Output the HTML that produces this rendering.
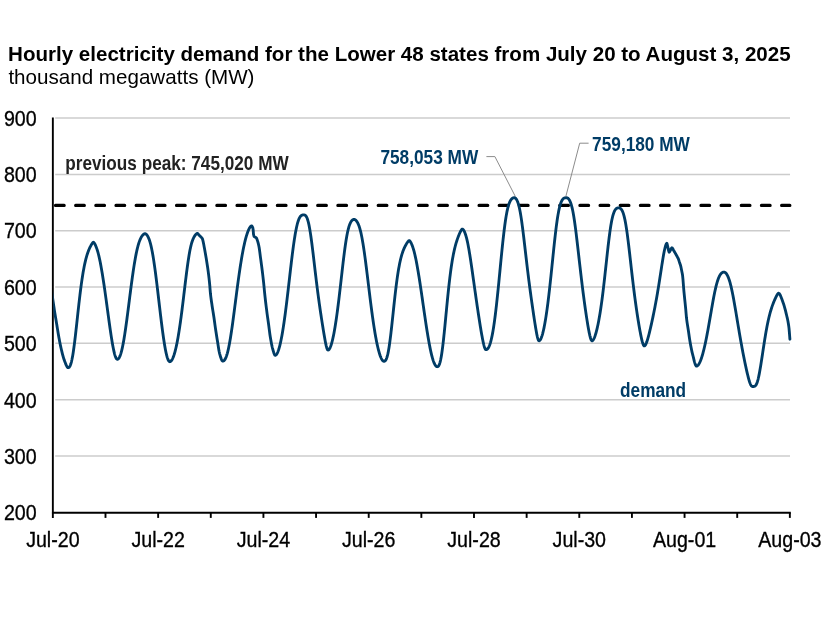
<!DOCTYPE html>
<html lang="en">
<head>
<meta charset="utf-8">
<title>Hourly electricity demand for the Lower 48 states</title>
<style>
html,body{margin:0;padding:0;background:#fff;}
body{width:826px;height:620px;overflow:hidden;font-family:"Liberation Sans",Arial,Helvetica,sans-serif;}
svg{display:block;}
text{font-family:"Liberation Sans",Arial,Helvetica,sans-serif;}
</style>
</head>
<body>
<svg width="826" height="620" viewBox="0 0 826 620">
<rect x="0" y="0" width="826" height="620" fill="#ffffff"/>
<text x="8.1" y="61.0" font-size="20.55" font-weight="bold" fill="#000">Hourly electricity demand for the Lower 48 states from July 20 to August 3, 2025</text>
<text x="8.4" y="84.2" font-size="20.6" fill="#000">thousand megawatts (MW)</text>
<g stroke="#cccccc" stroke-width="1.5" fill="none">
<line x1="55.2" y1="456.00" x2="790" y2="456.00"/>
<line x1="55.2" y1="399.65" x2="790" y2="399.65"/>
<line x1="55.2" y1="343.30" x2="790" y2="343.30"/>
<line x1="55.2" y1="287.10" x2="790" y2="287.10"/>
<line x1="55.2" y1="230.80" x2="790" y2="230.80"/>
<line x1="55.2" y1="174.40" x2="790" y2="174.40"/>
<line x1="55.2" y1="118.00" x2="790" y2="118.00"/>
</g>
<text transform="translate(3.90 520.40) scale(0.8610 1)" x="0" y="0" font-size="22.8" text-anchor="start" fill="#000" stroke="#000" stroke-width="0.35">200</text>
<text transform="translate(3.90 464.01) scale(0.8610 1)" x="0" y="0" font-size="22.8" text-anchor="start" fill="#000" stroke="#000" stroke-width="0.35">300</text>
<text transform="translate(3.90 407.63) scale(0.8610 1)" x="0" y="0" font-size="22.8" text-anchor="start" fill="#000" stroke="#000" stroke-width="0.35">400</text>
<text transform="translate(3.90 351.24) scale(0.8610 1)" x="0" y="0" font-size="22.8" text-anchor="start" fill="#000" stroke="#000" stroke-width="0.35">500</text>
<text transform="translate(3.90 294.86) scale(0.8610 1)" x="0" y="0" font-size="22.8" text-anchor="start" fill="#000" stroke="#000" stroke-width="0.35">600</text>
<text transform="translate(3.90 238.47) scale(0.8610 1)" x="0" y="0" font-size="22.8" text-anchor="start" fill="#000" stroke="#000" stroke-width="0.35">700</text>
<text transform="translate(3.90 182.09) scale(0.8610 1)" x="0" y="0" font-size="22.8" text-anchor="start" fill="#000" stroke="#000" stroke-width="0.35">800</text>
<text transform="translate(3.90 125.70) scale(0.8610 1)" x="0" y="0" font-size="22.8" text-anchor="start" fill="#000" stroke="#000" stroke-width="0.35">900</text>
<line x1="55.45" y1="205.39" x2="789.9" y2="205.39" stroke="#000" stroke-width="3.1" stroke-linecap="round" stroke-dasharray="8.75 11.42"/>
<g stroke="#000" stroke-width="1.9" fill="none">
<line x1="52.85" y1="117.6" x2="52.85" y2="517.9"/>
<line x1="51.95" y1="512.7" x2="790.8000000000001" y2="512.7"/>
<line x1="105.49" y1="512.7" x2="105.49" y2="517.9"/>
<line x1="158.14" y1="512.7" x2="158.14" y2="517.9"/>
<line x1="210.78" y1="512.7" x2="210.78" y2="517.9"/>
<line x1="263.42" y1="512.7" x2="263.42" y2="517.9"/>
<line x1="316.06" y1="512.7" x2="316.06" y2="517.9"/>
<line x1="368.71" y1="512.7" x2="368.71" y2="517.9"/>
<line x1="421.35" y1="512.7" x2="421.35" y2="517.9"/>
<line x1="473.99" y1="512.7" x2="473.99" y2="517.9"/>
<line x1="526.64" y1="512.7" x2="526.64" y2="517.9"/>
<line x1="579.28" y1="512.7" x2="579.28" y2="517.9"/>
<line x1="631.92" y1="512.7" x2="631.92" y2="517.9"/>
<line x1="684.56" y1="512.7" x2="684.56" y2="517.9"/>
<line x1="737.21" y1="512.7" x2="737.21" y2="517.9"/>
<line x1="789.85" y1="512.7" x2="789.85" y2="517.9"/>
</g>
<clipPath id="plot"><rect x="53.3" y="100" width="745" height="420"/></clipPath>
<path clip-path="url(#plot)" d="M50.50 282.40 L50.85 285.07 L51.20 287.70 L51.55 290.30 L51.90 292.86 L52.25 295.39 L52.60 297.89 L52.95 300.35 L53.30 302.78 L53.65 305.18 L54.00 307.53 L54.35 309.84 L54.70 312.10 L55.05 314.29 L55.40 316.43 L55.75 318.53 L56.10 320.61 L56.45 322.70 L56.80 324.81 L57.15 326.96 L57.50 329.14 L57.85 331.31 L58.20 333.43 L58.55 335.46 L58.90 337.40 L59.25 339.30 L59.60 341.16 L59.95 342.98 L60.30 344.72 L60.65 346.39 L61.00 347.97 L61.35 349.47 L61.70 350.95 L62.05 352.40 L62.40 353.82 L62.75 355.18 L63.10 356.47 L63.45 357.69 L63.80 358.82 L64.15 359.84 L64.50 360.75 L64.85 361.66 L65.20 362.58 L65.55 363.49 L65.90 364.36 L66.25 365.18 L66.60 365.93 L66.95 366.57 L67.30 367.09 L67.65 367.46 L68.00 367.67 L68.20 367.70 L68.35 367.69 L68.70 367.59 L69.05 367.37 L69.40 367.02 L69.75 366.52 L70.10 365.87 L70.45 365.05 L70.80 364.06 L71.15 362.90 L71.50 361.55 L71.85 360.03 L72.20 358.33 L72.55 356.45 L72.90 354.40 L73.25 352.19 L73.60 349.83 L73.95 347.32 L74.30 344.67 L74.65 341.91 L75.00 339.04 L75.35 336.07 L75.70 333.02 L76.05 329.91 L76.40 326.75 L76.75 323.56 L77.10 320.34 L77.45 317.12 L77.80 313.90 L78.15 310.70 L78.50 307.54 L78.85 304.41 L79.20 301.34 L79.55 298.33 L79.90 295.39 L80.25 292.52 L80.60 289.74 L80.95 287.04 L81.30 284.43 L81.65 281.92 L82.00 279.50 L82.35 277.18 L82.70 274.96 L83.05 272.84 L83.40 270.81 L83.75 268.88 L84.10 267.04 L84.45 265.30 L84.80 263.64 L85.15 262.08 L85.50 260.59 L85.85 259.19 L86.20 257.86 L86.55 256.60 L86.90 255.42 L87.25 254.30 L87.60 253.24 L87.95 252.24 L88.30 251.29 L88.65 250.39 L89.00 249.54 L89.35 248.73 L89.70 247.96 L90.05 247.22 L90.40 246.52 L90.75 245.85 L91.10 245.21 L91.45 244.60 L91.80 244.02 L92.15 243.49 L92.50 243.01 L92.85 242.60 L93.20 242.29 L93.40 242.20 L93.55 242.26 L93.90 242.58 L94.25 243.03 L94.60 243.58 L94.95 244.21 L95.30 244.92 L95.65 245.69 L96.00 246.52 L96.35 247.42 L96.70 248.38 L97.05 249.40 L97.40 250.50 L97.75 251.68 L98.10 252.93 L98.45 254.26 L98.80 255.67 L99.15 257.15 L99.50 258.72 L99.85 260.36 L100.20 262.08 L100.55 263.87 L100.90 265.72 L101.25 267.64 L101.60 269.63 L101.95 271.68 L102.30 273.78 L102.65 275.95 L103.00 278.16 L103.35 280.42 L103.70 282.73 L104.05 285.08 L104.40 287.47 L104.75 289.90 L105.10 292.36 L105.45 294.85 L105.80 297.36 L106.15 299.90 L106.50 302.45 L106.85 305.02 L107.20 307.60 L107.55 310.18 L107.90 312.76 L108.25 315.34 L108.60 317.91 L108.95 320.46 L109.30 322.98 L109.65 325.48 L110.00 327.95 L110.35 330.38 L110.70 332.76 L111.05 335.09 L111.40 337.36 L111.75 339.56 L112.10 341.68 L112.45 343.73 L112.80 345.68 L113.15 347.54 L113.50 349.29 L113.85 350.92 L114.20 352.44 L114.55 353.82 L114.90 355.07 L115.25 356.17 L115.60 357.12 L115.95 357.91 L116.30 358.53 L116.65 358.97 L117.00 359.23 L117.30 359.30 L117.35 359.30 L117.70 359.23 L118.05 359.06 L118.40 358.77 L118.75 358.37 L119.10 357.86 L119.45 357.24 L119.80 356.50 L120.15 355.64 L120.50 354.67 L120.85 353.58 L121.20 352.38 L121.55 351.07 L121.90 349.65 L122.25 348.11 L122.60 346.48 L122.95 344.73 L123.30 342.89 L123.65 340.95 L124.00 338.92 L124.35 336.81 L124.70 334.60 L125.05 332.32 L125.40 329.97 L125.75 327.55 L126.10 325.07 L126.45 322.53 L126.80 319.94 L127.15 317.31 L127.50 314.64 L127.85 311.93 L128.20 309.21 L128.55 306.47 L128.90 303.71 L129.25 300.95 L129.60 298.19 L129.95 295.44 L130.30 292.71 L130.65 289.99 L131.00 287.30 L131.35 284.64 L131.70 282.02 L132.05 279.44 L132.40 276.91 L132.75 274.43 L133.10 272.01 L133.45 269.65 L133.80 267.35 L134.15 265.13 L134.50 262.97 L134.85 260.89 L135.20 258.89 L135.55 256.97 L135.90 255.13 L136.25 253.38 L136.60 251.71 L136.95 250.13 L137.30 248.63 L137.65 247.22 L138.00 245.89 L138.35 244.65 L138.70 243.48 L139.05 242.40 L139.40 241.40 L139.75 240.46 L140.10 239.60 L140.45 238.81 L140.80 238.08 L141.15 237.41 L141.50 236.80 L141.85 236.25 L142.20 235.76 L142.55 235.31 L142.90 234.92 L143.25 234.59 L143.60 234.30 L143.95 234.07 L144.30 233.89 L144.65 233.76 L145.00 233.70 L145.06 233.70 L145.35 233.75 L145.70 233.89 L146.05 234.12 L146.40 234.42 L146.75 234.79 L147.10 235.24 L147.45 235.76 L147.80 236.36 L148.15 237.03 L148.50 237.78 L148.85 238.62 L149.20 239.54 L149.55 240.55 L149.90 241.66 L150.25 242.86 L150.60 244.16 L150.95 245.57 L151.30 247.08 L151.65 248.70 L152.00 250.43 L152.35 252.26 L152.70 254.20 L153.05 256.24 L153.40 258.37 L153.75 260.61 L154.10 262.93 L154.45 265.34 L154.80 267.83 L155.15 270.40 L155.50 273.03 L155.85 275.74 L156.20 278.50 L156.55 281.32 L156.90 284.18 L157.25 287.09 L157.60 290.02 L157.95 292.98 L158.30 295.97 L158.65 298.96 L159.00 301.96 L159.35 304.96 L159.70 307.94 L160.05 310.92 L160.40 313.86 L160.75 316.78 L161.10 319.66 L161.45 322.50 L161.80 325.28 L162.15 328.01 L162.50 330.67 L162.85 333.26 L163.20 335.77 L163.55 338.21 L163.90 340.55 L164.25 342.80 L164.60 344.94 L164.95 346.98 L165.30 348.91 L165.65 350.73 L166.00 352.42 L166.35 353.98 L166.70 355.42 L167.05 356.72 L167.40 357.87 L167.75 358.89 L168.10 359.75 L168.45 360.46 L168.80 361.02 L169.15 361.41 L169.50 361.64 L169.80 361.70 L169.85 361.70 L170.20 361.63 L170.55 361.46 L170.90 361.20 L171.25 360.84 L171.60 360.39 L171.95 359.86 L172.30 359.24 L172.65 358.53 L173.00 357.74 L173.35 356.87 L173.70 355.91 L174.05 354.88 L174.40 353.76 L174.75 352.56 L175.10 351.28 L175.45 349.93 L175.80 348.48 L176.15 346.96 L176.50 345.36 L176.85 343.67 L177.20 341.91 L177.55 340.06 L177.90 338.13 L178.25 336.12 L178.60 334.03 L178.95 331.86 L179.30 329.62 L179.65 327.30 L180.00 324.91 L180.35 322.45 L180.70 319.92 L181.05 317.33 L181.40 314.68 L181.75 311.98 L182.10 309.23 L182.45 306.43 L182.80 303.59 L183.15 300.73 L183.50 297.84 L183.85 294.93 L184.20 292.01 L184.55 289.09 L184.90 286.18 L185.25 283.29 L185.60 280.42 L185.95 277.58 L186.30 274.79 L186.65 272.05 L187.00 269.36 L187.35 266.75 L187.70 264.22 L188.05 261.78 L188.40 259.43 L188.75 257.18 L189.10 255.04 L189.45 253.02 L189.80 251.11 L190.15 249.33 L190.50 247.68 L190.85 246.15 L191.20 244.74 L191.55 243.45 L191.90 242.27 L192.25 241.20 L192.60 240.22 L192.95 239.32 L193.30 238.50 L193.65 237.76 L194.00 237.07 L194.35 236.44 L194.70 235.88 L195.05 235.36 L195.40 234.91 L195.75 234.50 L196.10 234.16 L196.45 233.87 L196.80 233.64 L197.15 233.47 L197.40 233.40 L197.50 233.42 L197.85 233.67 L198.20 234.11 L198.55 234.55 L198.90 234.91 L199.25 235.28 L199.60 235.64 L199.95 236.00 L200.30 236.35 L200.65 236.70 L201.00 237.05 L201.35 237.37 L201.70 237.67 L202.05 238.07 L202.40 238.75 L202.75 239.96 L203.10 241.40 L203.45 243.01 L203.80 244.86 L204.15 246.73 L204.50 248.60 L204.85 250.51 L205.20 252.46 L205.55 254.46 L205.90 256.50 L206.25 258.60 L206.60 260.74 L206.95 262.93 L207.30 265.19 L207.65 267.55 L208.00 270.03 L208.35 272.65 L208.70 275.40 L209.05 278.35 L209.40 281.54 L209.75 285.24 L210.10 289.57 L210.45 293.53 L210.80 296.58 L211.15 299.26 L211.50 301.71 L211.85 304.08 L212.20 306.45 L212.55 308.70 L212.90 310.87 L213.25 313.03 L213.60 315.23 L213.95 317.54 L214.30 319.98 L214.65 322.52 L215.00 325.07 L215.35 327.58 L215.70 329.97 L216.05 332.29 L216.40 334.55 L216.75 336.77 L217.10 338.95 L217.45 341.10 L217.80 343.28 L218.15 345.55 L218.50 347.80 L218.85 349.92 L219.20 351.80 L219.55 353.32 L219.90 354.56 L220.25 355.80 L220.60 356.98 L220.95 358.09 L221.30 359.07 L221.65 359.91 L222.00 360.54 L222.35 360.96 L222.70 361.10 L222.70 361.10 L223.05 361.07 L223.40 360.96 L223.75 360.77 L224.10 360.50 L224.45 360.14 L224.80 359.68 L225.15 359.13 L225.50 358.47 L225.85 357.72 L226.20 356.85 L226.55 355.88 L226.90 354.80 L227.25 353.61 L227.60 352.31 L227.95 350.91 L228.30 349.40 L228.65 347.78 L229.00 346.06 L229.35 344.25 L229.70 342.34 L230.05 340.34 L230.40 338.25 L230.75 336.08 L231.10 333.83 L231.45 331.51 L231.80 329.13 L232.15 326.69 L232.50 324.19 L232.85 321.64 L233.20 319.05 L233.55 316.43 L233.90 313.77 L234.25 311.10 L234.60 308.40 L234.95 305.69 L235.30 302.98 L235.65 300.27 L236.00 297.56 L236.35 294.86 L236.70 292.17 L237.05 289.51 L237.40 286.87 L237.75 284.26 L238.10 281.68 L238.45 279.14 L238.80 276.63 L239.15 274.17 L239.50 271.76 L239.85 269.39 L240.20 267.07 L240.55 264.81 L240.90 262.60 L241.25 260.45 L241.60 258.35 L241.95 256.32 L242.30 254.35 L242.65 252.43 L243.00 250.58 L243.35 248.80 L243.70 247.08 L244.05 245.42 L244.40 243.83 L244.75 242.30 L245.10 240.85 L245.45 239.46 L245.80 238.13 L246.15 236.87 L246.50 235.68 L246.85 234.56 L247.20 233.49 L247.55 232.50 L247.90 231.56 L248.25 230.69 L248.60 229.87 L248.95 229.12 L249.30 228.43 L249.65 227.80 L250.00 227.25 L250.35 226.77 L250.70 226.37 L251.05 226.08 L251.40 225.91 L251.50 225.90 L251.75 225.98 L252.10 226.34 L252.45 226.97 L252.80 227.87 L253.15 229.69 L253.50 234.30 L253.85 235.80 L254.20 236.47 L254.55 236.85 L254.90 237.09 L255.25 237.26 L255.60 237.41 L255.95 237.61 L256.30 237.89 L256.65 238.41 L257.00 239.30 L257.35 240.35 L257.70 241.43 L258.05 242.62 L258.40 243.96 L258.75 245.48 L259.10 247.28 L259.45 249.54 L259.80 252.12 L260.15 254.85 L260.50 257.56 L260.85 260.13 L261.20 262.71 L261.55 265.33 L261.90 268.02 L262.25 270.80 L262.60 273.69 L262.95 276.66 L263.30 279.75 L263.65 282.97 L264.00 286.47 L264.35 290.13 L264.70 293.66 L265.05 296.88 L265.40 299.98 L265.75 302.97 L266.10 305.87 L266.45 308.69 L266.80 311.43 L267.15 314.07 L267.50 316.58 L267.85 319.01 L268.20 321.44 L268.55 323.93 L268.90 326.59 L269.25 329.39 L269.60 332.17 L269.95 334.76 L270.30 337.01 L270.65 339.10 L271.00 341.10 L271.35 342.99 L271.70 344.75 L272.05 346.35 L272.40 347.77 L272.75 349.03 L273.10 350.29 L273.45 351.54 L273.80 352.71 L274.15 353.74 L274.50 354.56 L274.85 355.10 L275.20 355.30 L275.20 355.30 L275.55 355.24 L275.90 355.05 L276.25 354.74 L276.60 354.31 L276.95 353.77 L277.30 353.13 L277.65 352.37 L278.00 351.52 L278.35 350.57 L278.70 349.51 L279.05 348.36 L279.40 347.12 L279.75 345.79 L280.10 344.36 L280.45 342.84 L280.80 341.24 L281.15 339.54 L281.50 337.76 L281.85 335.89 L282.20 333.94 L282.55 331.91 L282.90 329.80 L283.25 327.60 L283.60 325.33 L283.95 322.98 L284.30 320.56 L284.65 318.07 L285.00 315.50 L285.35 312.88 L285.70 310.19 L286.05 307.44 L286.40 304.63 L286.75 301.78 L287.10 298.88 L287.45 295.95 L287.80 292.97 L288.15 289.97 L288.50 286.95 L288.85 283.91 L289.20 280.85 L289.55 277.80 L289.90 274.75 L290.25 271.72 L290.60 268.70 L290.95 265.71 L291.30 262.75 L291.65 259.84 L292.00 256.97 L292.35 254.17 L292.70 251.42 L293.05 248.75 L293.40 246.16 L293.75 243.65 L294.10 241.23 L294.45 238.91 L294.80 236.69 L295.15 234.58 L295.50 232.58 L295.85 230.68 L296.20 228.91 L296.55 227.25 L296.90 225.70 L297.25 224.28 L297.60 222.97 L297.95 221.78 L298.30 220.70 L298.65 219.74 L299.00 218.88 L299.35 218.12 L299.70 217.46 L300.05 216.90 L300.40 216.42 L300.75 216.03 L301.10 215.71 L301.45 215.45 L301.80 215.25 L302.15 215.11 L302.50 215.01 L302.85 214.95 L303.20 214.91 L303.55 214.90 L303.60 214.90 L303.90 214.91 L304.25 214.95 L304.60 215.03 L304.95 215.17 L305.30 215.39 L305.65 215.69 L306.00 216.10 L306.35 216.62 L306.70 217.26 L307.05 218.04 L307.40 218.97 L307.75 220.04 L308.10 221.27 L308.45 222.65 L308.80 224.19 L309.15 225.89 L309.50 227.73 L309.85 229.73 L310.20 231.86 L310.55 234.12 L310.90 236.51 L311.25 239.01 L311.60 241.61 L311.95 244.30 L312.30 247.06 L312.65 249.89 L313.00 252.78 L313.35 255.70 L313.70 258.66 L314.05 261.63 L314.40 264.61 L314.75 267.59 L315.10 270.56 L315.45 273.51 L315.80 276.44 L316.15 279.34 L316.50 282.21 L316.85 285.03 L317.20 287.82 L317.55 290.56 L317.90 293.25 L318.25 295.90 L318.60 298.50 L318.95 301.06 L319.30 303.58 L319.65 306.05 L320.00 308.48 L320.35 310.88 L320.70 313.24 L321.05 315.57 L321.40 317.88 L321.75 320.15 L322.10 322.40 L322.45 324.62 L322.80 326.82 L323.15 328.99 L323.50 331.13 L323.85 333.23 L324.20 335.30 L324.55 337.32 L324.90 339.27 L325.25 341.15 L325.60 342.93 L325.95 344.60 L326.30 346.12 L326.65 347.45 L327.00 348.57 L327.35 349.42 L327.70 349.95 L328.00 350.10 L328.05 350.10 L328.40 350.00 L328.75 349.77 L329.10 349.40 L329.45 348.91 L329.80 348.29 L330.15 347.57 L330.50 346.73 L330.85 345.78 L331.20 344.73 L331.55 343.58 L331.90 342.34 L332.25 341.00 L332.60 339.56 L332.95 338.03 L333.30 336.41 L333.65 334.70 L334.00 332.90 L334.35 331.01 L334.70 329.04 L335.05 326.97 L335.40 324.82 L335.75 322.59 L336.10 320.28 L336.45 317.88 L336.80 315.40 L337.15 312.85 L337.50 310.23 L337.85 307.54 L338.20 304.78 L338.55 301.96 L338.90 299.08 L339.25 296.16 L339.60 293.19 L339.95 290.18 L340.30 287.14 L340.65 284.07 L341.00 280.99 L341.35 277.91 L341.70 274.82 L342.05 271.75 L342.40 268.70 L342.75 265.68 L343.10 262.69 L343.45 259.76 L343.80 256.89 L344.15 254.09 L344.50 251.37 L344.85 248.73 L345.20 246.20 L345.55 243.77 L345.90 241.45 L346.25 239.26 L346.60 237.19 L346.95 235.25 L347.30 233.44 L347.65 231.77 L348.00 230.23 L348.35 228.82 L348.70 227.53 L349.05 226.37 L349.40 225.32 L349.75 224.37 L350.10 223.53 L350.45 222.77 L350.80 222.11 L351.15 221.52 L351.50 221.02 L351.85 220.60 L352.20 220.24 L352.55 219.96 L352.90 219.74 L353.25 219.57 L353.60 219.47 L353.95 219.41 L354.10 219.40 L354.30 219.42 L354.65 219.52 L355.00 219.67 L355.35 219.89 L355.70 220.16 L356.05 220.49 L356.40 220.89 L356.75 221.35 L357.10 221.87 L357.45 222.46 L357.80 223.13 L358.15 223.86 L358.50 224.67 L358.85 225.57 L359.20 226.55 L359.55 227.62 L359.90 228.78 L360.25 230.05 L360.60 231.42 L360.95 232.90 L361.30 234.49 L361.65 236.18 L362.00 237.99 L362.35 239.89 L362.70 241.90 L363.05 244.00 L363.40 246.20 L363.75 248.49 L364.10 250.86 L364.45 253.31 L364.80 255.83 L365.15 258.42 L365.50 261.06 L365.85 263.76 L366.20 266.51 L366.55 269.29 L366.90 272.11 L367.25 274.95 L367.60 277.81 L367.95 280.68 L368.30 283.56 L368.65 286.44 L369.00 289.32 L369.35 292.18 L369.70 295.02 L370.05 297.84 L370.40 300.64 L370.75 303.40 L371.10 306.12 L371.45 308.80 L371.80 311.44 L372.15 314.03 L372.50 316.57 L372.85 319.05 L373.20 321.47 L373.55 323.84 L373.90 326.14 L374.25 328.38 L374.60 330.55 L374.95 332.66 L375.30 334.70 L375.65 336.67 L376.00 338.57 L376.35 340.40 L376.70 342.16 L377.05 343.85 L377.40 345.46 L377.75 347.00 L378.10 348.47 L378.45 349.86 L378.80 351.18 L379.15 352.43 L379.50 353.60 L379.85 354.69 L380.20 355.71 L380.55 356.65 L380.90 357.50 L381.25 358.28 L381.60 358.97 L381.95 359.58 L382.30 360.11 L382.65 360.54 L383.00 360.88 L383.35 361.12 L383.70 361.26 L384.00 361.30 L384.05 361.30 L384.40 361.25 L384.75 361.12 L385.10 360.89 L385.45 360.54 L385.80 360.05 L386.15 359.41 L386.50 358.61 L386.85 357.64 L387.20 356.49 L387.55 355.15 L387.90 353.63 L388.25 351.91 L388.60 350.01 L388.95 347.93 L389.30 345.67 L389.65 343.24 L390.00 340.66 L390.35 337.93 L390.70 335.07 L391.05 332.10 L391.40 329.03 L391.75 325.87 L392.10 322.66 L392.45 319.40 L392.80 316.11 L393.15 312.81 L393.50 309.51 L393.85 306.23 L394.20 302.99 L394.55 299.79 L394.90 296.65 L395.25 293.59 L395.60 290.60 L395.95 287.71 L396.30 284.91 L396.65 282.21 L397.00 279.62 L397.35 277.13 L397.70 274.76 L398.05 272.50 L398.40 270.35 L398.75 268.31 L399.10 266.38 L399.45 264.55 L399.80 262.83 L400.15 261.21 L400.50 259.68 L400.85 258.25 L401.20 256.90 L401.55 255.63 L401.90 254.45 L402.25 253.33 L402.60 252.28 L402.95 251.29 L403.30 250.36 L403.65 249.49 L404.00 248.66 L404.35 247.87 L404.70 247.12 L405.05 246.41 L405.40 245.73 L405.75 245.08 L406.10 244.46 L406.45 243.87 L406.80 243.30 L407.15 242.76 L407.50 242.25 L407.85 241.78 L408.20 241.36 L408.55 240.99 L408.90 240.72 L409.20 240.60 L409.25 240.61 L409.60 240.80 L409.95 241.14 L410.30 241.60 L410.65 242.15 L411.00 242.78 L411.35 243.49 L411.70 244.27 L412.05 245.12 L412.40 246.03 L412.75 247.02 L413.10 248.09 L413.45 249.22 L413.80 250.43 L414.15 251.73 L414.50 253.09 L414.85 254.54 L415.20 256.06 L415.55 257.66 L415.90 259.32 L416.25 261.06 L416.60 262.87 L416.95 264.73 L417.30 266.66 L417.65 268.64 L418.00 270.68 L418.35 272.77 L418.70 274.90 L419.05 277.08 L419.40 279.30 L419.75 281.55 L420.10 283.84 L420.45 286.16 L420.80 288.50 L421.15 290.87 L421.50 293.26 L421.85 295.66 L422.20 298.07 L422.55 300.50 L422.90 302.93 L423.25 305.36 L423.60 307.79 L423.95 310.21 L424.30 312.62 L424.65 315.03 L425.00 317.41 L425.35 319.78 L425.70 322.12 L426.05 324.43 L426.40 326.72 L426.75 328.97 L427.10 331.18 L427.45 333.35 L427.80 335.48 L428.15 337.56 L428.50 339.59 L428.85 341.57 L429.20 343.49 L429.55 345.35 L429.90 347.14 L430.25 348.88 L430.60 350.54 L430.95 352.13 L431.30 353.65 L431.65 355.10 L432.00 356.46 L432.35 357.75 L432.70 358.96 L433.05 360.08 L433.40 361.12 L433.75 362.07 L434.10 362.94 L434.45 363.72 L434.80 364.40 L435.15 365.00 L435.50 365.51 L435.85 365.93 L436.20 366.26 L436.55 366.49 L436.90 366.64 L437.25 366.70 L437.30 366.70 L437.60 366.66 L437.95 366.52 L438.30 366.24 L438.65 365.81 L439.00 365.21 L439.35 364.44 L439.70 363.46 L440.05 362.29 L440.40 360.90 L440.75 359.30 L441.10 357.48 L441.45 355.45 L441.80 353.22 L442.15 350.77 L442.50 348.14 L442.85 345.33 L443.20 342.35 L443.55 339.23 L443.90 335.97 L444.25 332.60 L444.60 329.13 L444.95 325.59 L445.30 321.99 L445.65 318.35 L446.00 314.70 L446.35 311.04 L446.70 307.41 L447.05 303.80 L447.40 300.25 L447.75 296.75 L448.10 293.33 L448.45 289.99 L448.80 286.75 L449.15 283.61 L449.50 280.57 L449.85 277.64 L450.20 274.82 L450.55 272.12 L450.90 269.54 L451.25 267.07 L451.60 264.72 L451.95 262.48 L452.30 260.35 L452.65 258.33 L453.00 256.41 L453.35 254.59 L453.70 252.86 L454.05 251.22 L454.40 249.67 L454.75 248.19 L455.10 246.78 L455.45 245.45 L455.80 244.18 L456.15 242.96 L456.50 241.81 L456.85 240.70 L457.20 239.63 L457.55 238.61 L457.90 237.63 L458.25 236.69 L458.60 235.78 L458.95 234.91 L459.30 234.07 L459.65 233.26 L460.00 232.49 L460.35 231.76 L460.70 231.08 L461.05 230.46 L461.40 229.91 L461.75 229.47 L462.10 229.17 L462.30 229.10 L462.45 229.13 L462.80 229.30 L463.15 229.61 L463.50 230.03 L463.85 230.55 L464.20 231.18 L464.55 231.92 L464.90 232.75 L465.25 233.68 L465.60 234.71 L465.95 235.84 L466.30 237.08 L466.65 238.42 L467.00 239.87 L467.35 241.42 L467.70 243.07 L468.05 244.82 L468.40 246.66 L468.75 248.59 L469.10 250.60 L469.45 252.68 L469.80 254.84 L470.15 257.05 L470.50 259.32 L470.85 261.64 L471.20 264.00 L471.55 266.39 L471.90 268.81 L472.25 271.25 L472.60 273.72 L472.95 276.19 L473.30 278.68 L473.65 281.16 L474.00 283.65 L474.35 286.14 L474.70 288.62 L475.05 291.10 L475.40 293.56 L475.75 296.01 L476.10 298.45 L476.45 300.87 L476.80 303.28 L477.15 305.67 L477.50 308.04 L477.85 310.39 L478.20 312.72 L478.55 315.02 L478.90 317.31 L479.25 319.57 L479.60 321.80 L479.95 324.00 L480.30 326.17 L480.65 328.30 L481.00 330.39 L481.35 332.44 L481.70 334.43 L482.05 336.37 L482.40 338.23 L482.75 340.01 L483.10 341.70 L483.45 343.29 L483.80 344.75 L484.15 346.06 L484.50 347.22 L484.85 348.18 L485.20 348.94 L485.55 349.45 L485.90 349.69 L486.00 349.70 L486.25 349.68 L486.60 349.59 L486.95 349.41 L487.30 349.15 L487.65 348.81 L488.00 348.37 L488.35 347.85 L488.70 347.23 L489.05 346.51 L489.40 345.69 L489.75 344.77 L490.10 343.74 L490.45 342.61 L490.80 341.36 L491.15 340.00 L491.50 338.52 L491.85 336.93 L492.20 335.22 L492.55 333.39 L492.90 331.44 L493.25 329.37 L493.60 327.19 L493.95 324.88 L494.30 322.46 L494.65 319.92 L495.00 317.27 L495.35 314.50 L495.70 311.64 L496.05 308.67 L496.40 305.61 L496.75 302.45 L497.10 299.21 L497.45 295.90 L497.80 292.51 L498.15 289.07 L498.50 285.57 L498.85 282.03 L499.20 278.45 L499.55 274.85 L499.90 271.24 L500.25 267.62 L500.60 264.01 L500.95 260.42 L501.30 256.86 L501.65 253.35 L502.00 249.88 L502.35 246.48 L502.70 243.16 L503.05 239.91 L503.40 236.76 L503.75 233.72 L504.10 230.78 L504.45 227.96 L504.80 225.27 L505.15 222.72 L505.50 220.30 L505.85 218.02 L506.20 215.89 L506.55 213.90 L506.90 212.06 L507.25 210.36 L507.60 208.81 L507.95 207.40 L508.30 206.11 L508.65 204.95 L509.00 203.90 L509.35 202.96 L509.70 202.12 L510.05 201.37 L510.40 200.71 L510.75 200.12 L511.10 199.61 L511.45 199.18 L511.80 198.81 L512.15 198.50 L512.50 198.25 L512.85 198.05 L513.20 197.91 L513.55 197.80 L513.90 197.74 L514.25 197.70 L514.40 197.70 L514.60 197.73 L514.95 197.84 L515.30 198.05 L515.65 198.34 L516.00 198.72 L516.35 199.20 L516.70 199.78 L517.05 200.46 L517.40 201.24 L517.75 202.14 L518.10 203.15 L518.45 204.28 L518.80 205.55 L519.15 206.95 L519.50 208.50 L519.85 210.19 L520.20 212.03 L520.55 214.01 L520.90 216.13 L521.25 218.39 L521.60 220.77 L521.95 223.26 L522.30 225.86 L522.65 228.55 L523.00 231.31 L523.35 234.15 L523.70 237.04 L524.05 239.98 L524.40 242.96 L524.75 245.96 L525.10 248.97 L525.45 251.99 L525.80 255.00 L526.15 258.00 L526.50 260.99 L526.85 263.96 L527.20 266.89 L527.55 269.80 L527.90 272.67 L528.25 275.51 L528.60 278.31 L528.95 281.07 L529.30 283.79 L529.65 286.47 L530.00 289.12 L530.35 291.73 L530.70 294.30 L531.05 296.85 L531.40 299.36 L531.75 301.85 L532.10 304.31 L532.45 306.75 L532.80 309.16 L533.15 311.55 L533.50 313.92 L533.85 316.27 L534.20 318.59 L534.55 320.88 L534.90 323.13 L535.25 325.34 L535.60 327.49 L535.95 329.58 L536.30 331.57 L536.65 333.46 L537.00 335.22 L537.35 336.80 L537.70 338.19 L538.05 339.33 L538.40 340.18 L538.75 340.69 L539.00 340.80 L539.10 340.79 L539.45 340.67 L539.80 340.41 L540.15 340.00 L540.50 339.47 L540.85 338.81 L541.20 338.03 L541.55 337.13 L541.90 336.12 L542.25 335.00 L542.60 333.78 L542.95 332.44 L543.30 331.01 L543.65 329.47 L544.00 327.83 L544.35 326.09 L544.70 324.25 L545.05 322.31 L545.40 320.27 L545.75 318.14 L546.10 315.90 L546.45 313.57 L546.80 311.14 L547.15 308.62 L547.50 306.01 L547.85 303.31 L548.20 300.52 L548.55 297.64 L548.90 294.69 L549.25 291.66 L549.60 288.56 L549.95 285.40 L550.30 282.17 L550.65 278.89 L551.00 275.57 L551.35 272.21 L551.70 268.83 L552.05 265.42 L552.40 262.01 L552.75 258.59 L553.10 255.19 L553.45 251.81 L553.80 248.46 L554.15 245.16 L554.50 241.92 L554.85 238.74 L555.20 235.64 L555.55 232.64 L555.90 229.73 L556.25 226.93 L556.60 224.25 L556.95 221.70 L557.30 219.28 L557.65 217.01 L558.00 214.88 L558.35 212.90 L558.70 211.08 L559.05 209.40 L559.40 207.87 L559.75 206.48 L560.10 205.22 L560.45 204.10 L560.80 203.09 L561.15 202.19 L561.50 201.39 L561.85 200.69 L562.20 200.08 L562.55 199.55 L562.90 199.10 L563.25 198.73 L563.60 198.43 L563.95 198.19 L564.30 198.01 L564.65 197.88 L565.00 197.79 L565.35 197.74 L565.70 197.71 L566.05 197.70 L566.30 197.70 L566.40 197.70 L566.75 197.74 L567.10 197.83 L567.45 197.97 L567.80 198.18 L568.15 198.45 L568.50 198.79 L568.85 199.22 L569.20 199.73 L569.55 200.33 L569.90 201.01 L570.25 201.80 L570.60 202.69 L570.95 203.69 L571.30 204.80 L571.65 206.04 L572.00 207.40 L572.35 208.91 L572.70 210.55 L573.05 212.33 L573.40 214.25 L573.75 216.30 L574.10 218.49 L574.45 220.80 L574.80 223.23 L575.15 225.77 L575.50 228.40 L575.85 231.13 L576.20 233.93 L576.55 236.80 L576.90 239.73 L577.25 242.71 L577.60 245.72 L577.95 248.77 L578.30 251.83 L578.65 254.91 L579.00 257.99 L579.35 261.07 L579.70 264.13 L580.05 267.18 L580.40 270.21 L580.75 273.21 L581.10 276.18 L581.45 279.11 L581.80 282.01 L582.15 284.87 L582.50 287.69 L582.85 290.47 L583.20 293.20 L583.55 295.90 L583.90 298.54 L584.25 301.15 L584.60 303.71 L584.95 306.23 L585.30 308.70 L585.65 311.13 L586.00 313.51 L586.35 315.85 L586.70 318.14 L587.05 320.37 L587.40 322.55 L587.75 324.67 L588.10 326.72 L588.45 328.70 L588.80 330.59 L589.15 332.38 L589.50 334.06 L589.85 335.61 L590.20 337.01 L590.55 338.24 L590.90 339.26 L591.25 340.05 L591.60 340.58 L591.95 340.80 L592.00 340.80 L592.30 340.74 L592.65 340.53 L593.00 340.18 L593.35 339.71 L593.70 339.12 L594.05 338.42 L594.40 337.62 L594.75 336.72 L595.10 335.74 L595.45 334.67 L595.80 333.52 L596.15 332.29 L596.50 330.97 L596.85 329.58 L597.20 328.11 L597.55 326.56 L597.90 324.93 L598.25 323.23 L598.60 321.44 L598.95 319.57 L599.30 317.62 L599.65 315.58 L600.00 313.46 L600.35 311.25 L600.70 308.96 L601.05 306.58 L601.40 304.12 L601.75 301.57 L602.10 298.94 L602.45 296.23 L602.80 293.45 L603.15 290.59 L603.50 287.66 L603.85 284.66 L604.20 281.61 L604.55 278.51 L604.90 275.37 L605.25 272.19 L605.60 268.98 L605.95 265.76 L606.30 262.53 L606.65 259.31 L607.00 256.11 L607.35 252.94 L607.70 249.81 L608.05 246.73 L608.40 243.72 L608.75 240.80 L609.10 237.96 L609.45 235.23 L609.80 232.61 L610.15 230.12 L610.50 227.76 L610.85 225.55 L611.20 223.48 L611.55 221.56 L611.90 219.80 L612.25 218.19 L612.60 216.73 L612.95 215.41 L613.30 214.23 L613.65 213.17 L614.00 212.24 L614.35 211.42 L614.70 210.70 L615.05 210.08 L615.40 209.55 L615.75 209.12 L616.10 208.76 L616.45 208.48 L616.80 208.27 L617.15 208.11 L617.50 208.01 L617.85 207.95 L618.20 207.91 L618.55 207.90 L618.80 207.90 L618.90 207.90 L619.25 207.93 L619.60 208.01 L619.95 208.13 L620.30 208.32 L620.65 208.57 L621.00 208.90 L621.35 209.32 L621.70 209.82 L622.05 210.42 L622.40 211.12 L622.75 211.93 L623.10 212.85 L623.45 213.89 L623.80 215.05 L624.15 216.35 L624.50 217.79 L624.85 219.37 L625.20 221.10 L625.55 222.98 L625.90 225.00 L626.25 227.17 L626.60 229.47 L626.95 231.89 L627.30 234.43 L627.65 237.08 L628.00 239.82 L628.35 242.64 L628.70 245.53 L629.05 248.49 L629.40 251.49 L629.75 254.53 L630.10 257.60 L630.45 260.68 L630.80 263.76 L631.15 266.85 L631.50 269.92 L631.85 272.97 L632.20 275.99 L632.55 278.98 L632.90 281.93 L633.25 284.84 L633.60 287.70 L633.95 290.52 L634.30 293.28 L634.65 295.99 L635.00 298.65 L635.35 301.25 L635.70 303.80 L636.05 306.30 L636.40 308.74 L636.75 311.13 L637.10 313.47 L637.45 315.76 L637.80 318.00 L638.15 320.20 L638.50 322.34 L638.85 324.44 L639.20 326.48 L639.55 328.48 L639.90 330.42 L640.25 332.30 L640.60 334.12 L640.95 335.86 L641.30 337.52 L641.65 339.09 L642.00 340.55 L642.35 341.89 L642.70 343.08 L643.05 344.10 L643.40 344.92 L643.75 345.52 L644.10 345.85 L644.30 345.90 L644.45 345.88 L644.80 345.71 L645.15 345.36 L645.50 344.85 L645.85 344.21 L646.20 343.44 L646.55 342.56 L646.90 341.58 L647.25 340.52 L647.60 339.38 L647.95 338.18 L648.30 336.92 L648.65 335.60 L649.00 334.24 L649.35 332.85 L649.70 331.41 L650.05 329.95 L650.40 328.45 L650.75 326.93 L651.10 325.39 L651.45 323.82 L651.80 322.23 L652.15 320.62 L652.50 318.99 L652.85 317.34 L653.20 315.66 L653.55 313.96 L653.90 312.24 L654.25 310.49 L654.60 308.71 L654.95 306.91 L655.30 305.08 L655.65 303.21 L656.00 301.32 L656.35 299.39 L656.70 297.43 L657.05 295.44 L657.40 293.41 L657.75 291.34 L658.10 289.24 L658.45 287.11 L658.80 284.94 L659.15 282.75 L659.50 280.53 L659.85 278.28 L660.20 276.02 L660.55 273.74 L660.90 271.45 L661.25 269.16 L661.60 266.89 L661.95 264.63 L662.30 262.41 L662.65 260.23 L663.00 258.11 L663.35 256.07 L663.70 254.12 L664.05 252.27 L664.40 250.55 L664.75 248.95 L665.10 247.50 L665.45 246.21 L665.80 245.09 L666.15 244.18 L666.50 243.54 L666.80 243.30 L666.85 243.32 L667.20 244.26 L667.55 245.80 L667.90 247.35 L668.25 249.12 L668.60 250.60 L668.95 251.80 L669.20 252.20 L669.30 252.17 L669.65 251.72 L670.00 250.99 L670.35 250.31 L670.70 249.54 L671.05 248.83 L671.40 248.33 L671.75 247.91 L672.00 247.80 L672.10 247.82 L672.45 248.16 L672.80 248.79 L673.15 249.53 L673.50 250.20 L673.85 250.77 L674.20 251.35 L674.55 251.93 L674.90 252.51 L675.25 253.11 L675.60 253.73 L675.95 254.35 L676.30 254.99 L676.65 255.63 L677.00 256.27 L677.35 256.91 L677.70 257.56 L678.05 258.20 L678.40 258.94 L678.75 259.93 L679.10 261.06 L679.45 262.20 L679.80 263.22 L680.15 264.21 L680.50 265.29 L680.85 266.60 L681.20 268.24 L681.55 270.03 L681.90 271.77 L682.25 273.46 L682.60 275.60 L682.95 279.04 L683.30 283.59 L683.65 288.24 L684.00 292.15 L684.35 295.70 L684.70 299.10 L685.05 302.45 L685.40 305.86 L685.75 309.46 L686.10 313.56 L686.45 317.54 L686.80 320.45 L687.15 322.92 L687.50 325.13 L687.85 327.25 L688.20 329.44 L688.55 331.81 L688.90 334.27 L689.25 336.73 L689.60 339.11 L689.95 341.32 L690.30 343.33 L690.65 345.24 L691.00 347.08 L691.35 348.84 L691.70 350.51 L692.05 352.07 L692.40 353.52 L692.75 354.88 L693.10 356.27 L693.45 357.71 L693.80 359.14 L694.15 360.54 L694.50 361.87 L694.85 363.08 L695.20 364.13 L695.55 365.00 L695.90 365.64 L696.25 366.02 L696.50 366.10 L696.60 366.10 L696.95 366.02 L697.30 365.85 L697.65 365.60 L698.00 365.26 L698.35 364.84 L698.70 364.35 L699.05 363.78 L699.40 363.14 L699.75 362.43 L700.10 361.66 L700.45 360.83 L700.80 359.93 L701.15 358.97 L701.50 357.95 L701.85 356.87 L702.20 355.73 L702.55 354.54 L702.90 353.29 L703.25 351.99 L703.60 350.63 L703.95 349.22 L704.30 347.76 L704.65 346.25 L705.00 344.69 L705.35 343.09 L705.70 341.43 L706.05 339.74 L706.40 337.99 L706.75 336.21 L707.10 334.39 L707.45 332.53 L707.80 330.64 L708.15 328.72 L708.50 326.77 L708.85 324.80 L709.20 322.81 L709.55 320.80 L709.90 318.77 L710.25 316.74 L710.60 314.71 L710.95 312.67 L711.30 310.64 L711.65 308.63 L712.00 306.63 L712.35 304.64 L712.70 302.69 L713.05 300.77 L713.40 298.88 L713.75 297.04 L714.10 295.24 L714.45 293.49 L714.80 291.81 L715.15 290.18 L715.50 288.61 L715.85 287.12 L716.20 285.69 L716.55 284.34 L716.90 283.07 L717.25 281.87 L717.60 280.75 L717.95 279.71 L718.30 278.74 L718.65 277.85 L719.00 277.03 L719.35 276.28 L719.70 275.61 L720.05 275.00 L720.40 274.46 L720.75 273.98 L721.10 273.57 L721.45 273.21 L721.80 272.91 L722.15 272.66 L722.50 272.46 L722.85 272.31 L723.20 272.20 L723.55 272.13 L723.90 272.10 L724.00 272.10 L724.25 272.12 L724.60 272.21 L724.95 272.37 L725.30 272.59 L725.65 272.88 L726.00 273.23 L726.35 273.66 L726.70 274.15 L727.05 274.72 L727.40 275.36 L727.75 276.07 L728.10 276.86 L728.45 277.72 L728.80 278.66 L729.15 279.68 L729.50 280.77 L729.85 281.95 L730.20 283.20 L730.55 284.53 L730.90 285.94 L731.25 287.42 L731.60 288.97 L731.95 290.59 L732.30 292.26 L732.65 294.00 L733.00 295.80 L733.35 297.64 L733.70 299.53 L734.05 301.45 L734.40 303.42 L734.75 305.42 L735.10 307.44 L735.45 309.49 L735.80 311.55 L736.15 313.63 L736.50 315.72 L736.85 317.81 L737.20 319.91 L737.55 322.01 L737.90 324.11 L738.25 326.20 L738.60 328.28 L738.95 330.34 L739.30 332.40 L739.65 334.44 L740.00 336.46 L740.35 338.47 L740.70 340.45 L741.05 342.41 L741.40 344.35 L741.75 346.27 L742.10 348.17 L742.45 350.04 L742.80 351.89 L743.15 353.72 L743.50 355.52 L743.85 357.29 L744.20 359.04 L744.55 360.77 L744.90 362.47 L745.25 364.14 L745.60 365.79 L745.95 367.41 L746.30 369.00 L746.65 370.57 L747.00 372.10 L747.35 373.59 L747.70 375.04 L748.05 376.46 L748.40 377.81 L748.75 379.11 L749.10 380.34 L749.45 381.49 L749.80 382.55 L750.15 383.49 L750.50 384.32 L750.85 385.01 L751.20 385.57 L751.55 385.99 L751.90 386.27 L752.25 386.43 L752.60 386.50 L752.80 386.50 L752.95 386.50 L753.30 386.50 L753.65 386.48 L754.00 386.44 L754.35 386.36 L754.70 386.23 L755.05 386.03 L755.40 385.75 L755.75 385.37 L756.10 384.86 L756.45 384.23 L756.80 383.44 L757.15 382.51 L757.50 381.42 L757.85 380.18 L758.20 378.80 L758.55 377.27 L758.90 375.63 L759.25 373.87 L759.60 372.01 L759.95 370.05 L760.30 368.02 L760.65 365.91 L761.00 363.74 L761.35 361.53 L761.70 359.27 L762.05 356.99 L762.40 354.69 L762.75 352.37 L763.10 350.06 L763.45 347.76 L763.80 345.48 L764.15 343.22 L764.50 341.00 L764.85 338.82 L765.20 336.68 L765.55 334.59 L765.90 332.56 L766.25 330.58 L766.60 328.66 L766.95 326.81 L767.30 325.02 L767.65 323.29 L768.00 321.63 L768.35 320.03 L768.70 318.49 L769.05 317.02 L769.40 315.60 L769.75 314.24 L770.10 312.94 L770.45 311.69 L770.80 310.49 L771.15 309.34 L771.50 308.23 L771.85 307.17 L772.20 306.14 L772.55 305.15 L772.90 304.20 L773.25 303.28 L773.60 302.39 L773.95 301.53 L774.30 300.70 L774.65 299.89 L775.00 299.10 L775.35 298.34 L775.70 297.60 L776.05 296.88 L776.40 296.19 L776.75 295.53 L777.10 294.90 L777.45 294.33 L777.80 293.82 L778.15 293.42 L778.50 293.20 L778.50 293.20 L778.85 293.29 L779.20 293.55 L779.55 293.96 L779.90 294.51 L780.25 295.17 L780.60 295.93 L780.95 296.77 L781.30 297.67 L781.65 298.61 L782.00 299.57 L782.35 300.54 L782.70 301.50 L783.05 302.43 L783.40 303.40 L783.75 304.45 L784.10 305.58 L784.45 306.78 L784.80 308.03 L785.15 309.35 L785.50 310.71 L785.85 312.12 L786.20 313.56 L786.55 315.03 L786.90 316.47 L787.25 317.94 L787.60 319.50 L787.95 321.23 L788.30 323.18 L788.65 325.43 L789.00 328.19 L789.35 332.00 L789.70 336.49 L789.90 339.20" fill="none" stroke="#003c66" stroke-width="2.85" stroke-linejoin="round" stroke-linecap="round"/>
<text transform="translate(52.85 547.20) scale(0.8610 1)" x="0" y="0" font-size="22.8" text-anchor="middle" fill="#000" stroke="#000" stroke-width="0.35">Jul-20</text>
<text transform="translate(158.14 547.20) scale(0.8610 1)" x="0" y="0" font-size="22.8" text-anchor="middle" fill="#000" stroke="#000" stroke-width="0.35">Jul-22</text>
<text transform="translate(263.42 547.20) scale(0.8610 1)" x="0" y="0" font-size="22.8" text-anchor="middle" fill="#000" stroke="#000" stroke-width="0.35">Jul-24</text>
<text transform="translate(368.71 547.20) scale(0.8610 1)" x="0" y="0" font-size="22.8" text-anchor="middle" fill="#000" stroke="#000" stroke-width="0.35">Jul-26</text>
<text transform="translate(473.99 547.20) scale(0.8610 1)" x="0" y="0" font-size="22.8" text-anchor="middle" fill="#000" stroke="#000" stroke-width="0.35">Jul-28</text>
<text transform="translate(579.28 547.20) scale(0.8610 1)" x="0" y="0" font-size="22.8" text-anchor="middle" fill="#000" stroke="#000" stroke-width="0.35">Jul-30</text>
<text transform="translate(684.56 547.20) scale(0.8610 1)" x="0" y="0" font-size="22.8" text-anchor="middle" fill="#000" stroke="#000" stroke-width="0.35">Aug-01</text>
<text transform="translate(789.85 547.20) scale(0.8610 1)" x="0" y="0" font-size="22.8" text-anchor="middle" fill="#000" stroke="#000" stroke-width="0.35">Aug-03</text>
<g stroke="#8c8c8c" stroke-width="1" fill="none">
<polyline points="486.4,156.6 494.9,156.6 515.4,196.6"/>
<polyline points="588.6,143.2 579.7,143.2 565.8,196.6"/>
</g>
<text transform="translate(65.30 170.00) scale(0.8380 1)" x="0" y="0" font-size="20.5" text-anchor="start" fill="#222" font-weight="bold">previous peak: 745,020 MW</text>
<text transform="translate(380.40 164.20) scale(0.8420 1)" x="0" y="0" font-size="20.5" text-anchor="start" fill="#003c66" font-weight="bold">758,053 MW</text>
<text transform="translate(592.10 151.00) scale(0.8420 1)" x="0" y="0" font-size="20.5" text-anchor="start" fill="#003c66" font-weight="bold">759,180 MW</text>
<text transform="translate(620.00 396.50) scale(0.8420 1)" x="0" y="0" font-size="20.5" text-anchor="start" fill="#003c66" font-weight="bold">demand</text>
</svg>
</body>
</html>
